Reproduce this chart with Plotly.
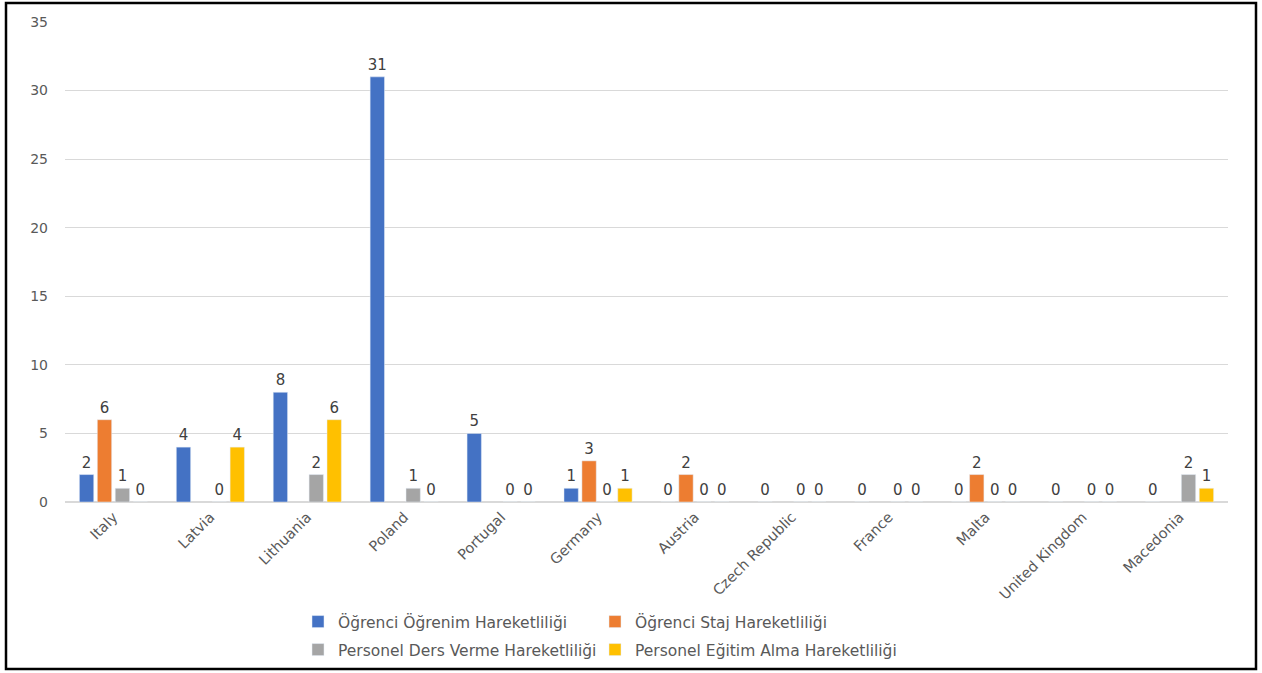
import plotly.graph_objects as go

countries = ["Italy", "Latvia", "Lithuania", "Poland", "Portugal", "Germany",
             "Austria", "Czech Republic", "France", "Malta", "United Kingdom", "Macedonia"]

ogrenim = [2, 4, 8, 31, 5, 1, 0, 0, 0, 0, 0, 0]
staj = [6, None, None, None, None, 3, 2, None, None, 2, None, None]
ders_verme = [1, 0, 2, 1, 0, 0, 0, 0, 0, 0, 0, 2]
egitim_alma = [0, 4, 6, 0, 0, 1, 0, 0, 0, 0, 0, 1]

series = [
    ("Öğrenci Öğrenim Hareketliliği", ogrenim, "#4472C4"),
    ("Öğrenci Staj Hareketliliği", staj, "#ED7D31"),
    ("Personel Ders Verme Hareketliliği", ders_verme, "#A5A5A5"),
    ("Personel Eğitim Alma Hareketliliği", egitim_alma, "#FFC000"),
]

FONT = "DejaVu Sans"

# plot area in pixels: left 65, right 1228, top 22, bottom 502
W, H = 1262, 673
L, R, T, B = 65, 34, 22, 171
pw, ph = W - L - R, H - T - B


def px(x):
    return (x - L) / pw


def py(y):
    return (H - B - y) / ph


# one legend per entry so the 2x2 grid sits like the original
legend_names = ["legend", "legend2", "legend3", "legend4"]
legend_pos = [(298, 622), (595, 622), (298, 650), (595, 650)]

fig = go.Figure()
for (name, vals, color), leg in zip(series, legend_names):
    fig.add_trace(go.Bar(
        x=countries, y=vals, name=name,
        marker_color=color,
        text=["" if v is None else str(v) for v in vals],
        textposition="outside",
        constraintext="none",
        textfont=dict(size=15, color="#404040", family=FONT),
        cliponaxis=False,
        legend=leg,
        showlegend=True,
    ))

legends = {}
for leg, (lx, ly) in zip(legend_names, legend_pos):
    legends[leg] = dict(
        x=px(lx), y=py(ly), xanchor="left", yanchor="middle",
        orientation="h", itemwidth=30, bgcolor="rgba(0,0,0,0)",
        font=dict(size=15.5, color="#595959", family=FONT),
    )

fig.update_layout(
    width=W, height=H,
    showlegend=True,
    margin=dict(l=L, r=R, t=T, b=B, autoexpand=False),
    barmode="group", bargap=0.26, bargroupgap=0.2,
    plot_bgcolor="white", paper_bgcolor="white",
    font=dict(family=FONT, color="#595959"),
    shapes=[dict(type="rect", xref="paper", yref="paper",
                 x0=px(6), x1=px(1256), y0=py(669), y1=py(3),
                 line=dict(color="black", width=2.5))],
    **legends,
)
fig.update_yaxes(range=[0, 35], dtick=5, showgrid=True, gridcolor="#D9D9D9",
                 zeroline=True, zerolinecolor="#D9D9D9", showline=False,
                 tickfont=dict(size=14, color="#595959"), ticks="", ticklabelstandoff=16)
fig.update_xaxes(tickangle=-45, tickfont=dict(size=14.5, color="#595959"),
                 showline=True, linecolor="#D9D9D9", ticks="")

fig.write_html("out.html", post_script="document.body.style.margin='0';",
               config={"displayModeBar": False})
